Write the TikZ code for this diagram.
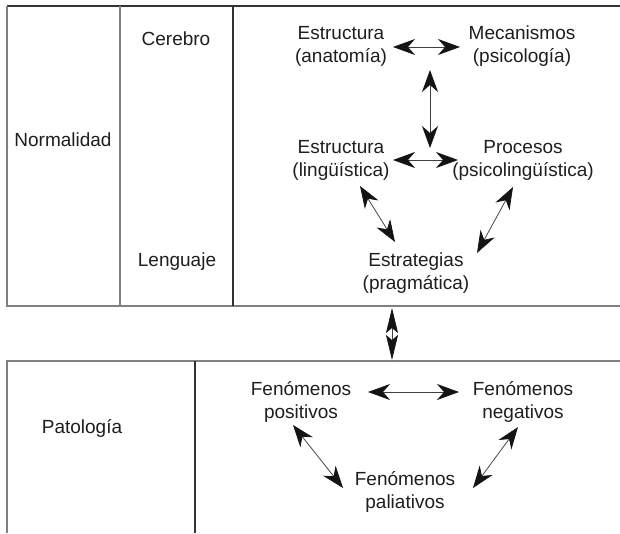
\documentclass[tikz,border=0pt]{standalone}
\usepackage{fontspec}
\setmainfont{Liberation Sans}
\usetikzlibrary{arrows.meta}
\definecolor{txt}{HTML}{1E1E1E}
\definecolor{lgray}{HTML}{808080}
\definecolor{ldark}{HTML}{333333}
\tikzset{
  lbl/.style={text=txt, align=center, inner sep=0pt, font=\fontsize{19}{23}\selectfont},
  frameline/.style={line width=1.3pt, lgray},
  darkline/.style={line width=1.2pt, ldark},
  tip/.style={Stealth[length=22pt,width=16pt,inset=7pt,black!92]},
  bigarrow/.style={line width=0.75pt, black!75, {Stealth[length=22pt,width=16pt,inset=7pt,black!92]}-{Stealth[length=22pt,width=16pt,inset=7pt,black!92]}},
  linkarrow/.style={line width=0.75pt, black!75, {Stealth[length=25pt,width=12pt,inset=5pt,black!92]}-{Stealth[length=25pt,width=12pt,inset=5pt,black!92]}}
}
\begin{document}
\begin{tikzpicture}[x=1pt,y=-1pt]
\useasboundingbox (0,0) rectangle (620,533);
% top box
\draw[darkline] (7,6) -- (620,6);
\draw[frameline] (7,6) -- (7,306) -- (620,306);
\draw[frameline] (120,6) -- (120,306);
\draw[darkline] (233,6) -- (233,306);
% bottom box
\draw[frameline] (7,533) -- (7,361) -- (620,361);
\draw[darkline] (195,361) -- (195,533);

% labels
\node[lbl] (nor) at (63,140) {Normalidad};
\node[lbl] (cer) at (176,39) {Cerebro};
\node[lbl] (len) at (177,262) {Lenguaje};
\node[lbl] (pat) at (82,428) {Patología};

\node[lbl] (ea) at (341,46) {Estructura\\(anatomía)};
\node[lbl] (me) at (522,46) {Mecanismos\\(psicología)};
\node[lbl] (el) at (341,160) {Estructura\\(lingüística)};
\node[lbl] (pr) at (523,160) {Procesos\\(psicolingüística)};
\node[lbl] (es) at (416,273) {Estrategias\\(pragmática)};

\node[lbl] (fp) at (301,402) {Fenómenos\\positivos};
\node[lbl] (fn) at (523,402) {Fenómenos\\negativos};
\node[lbl] (fpa) at (405,492) {Fenómenos\\paliativos};

% arrow end points
\coordinate (a1) at (393,47);  \coordinate (a2) at (460,47);
\coordinate (v1) at (430,70);  \coordinate (v2) at (430,148);
\coordinate (b1) at (393,160); \coordinate (b2) at (458,160);
\coordinate (d1) at (360,186); \coordinate (d2) at (395,242);
\coordinate (e1) at (513,187); \coordinate (e2) at (477,253);
\coordinate (k1) at (392,308); \coordinate (k2) at (392,360);
\coordinate (f1) at (368,392); \coordinate (f2) at (459,392);
\coordinate (g1) at (293,425); \coordinate (g2) at (343,488);
\coordinate (h1) at (518,427); \coordinate (h2) at (473,488);

\draw[bigarrow] (a1) -- (a2);
\draw[bigarrow] (v1) -- (v2);
\draw[bigarrow] (b1) -- (b2);
\draw[bigarrow] (d1) -- (d2);
\draw[bigarrow] (e1) -- (e2);
\draw[linkarrow] (k1) -- (k2);
\draw[bigarrow] (f1) -- (f2);
\draw[bigarrow] (g1) -- (g2);
\draw[bigarrow] (h1) -- (h2);
\end{tikzpicture}
\end{document}
